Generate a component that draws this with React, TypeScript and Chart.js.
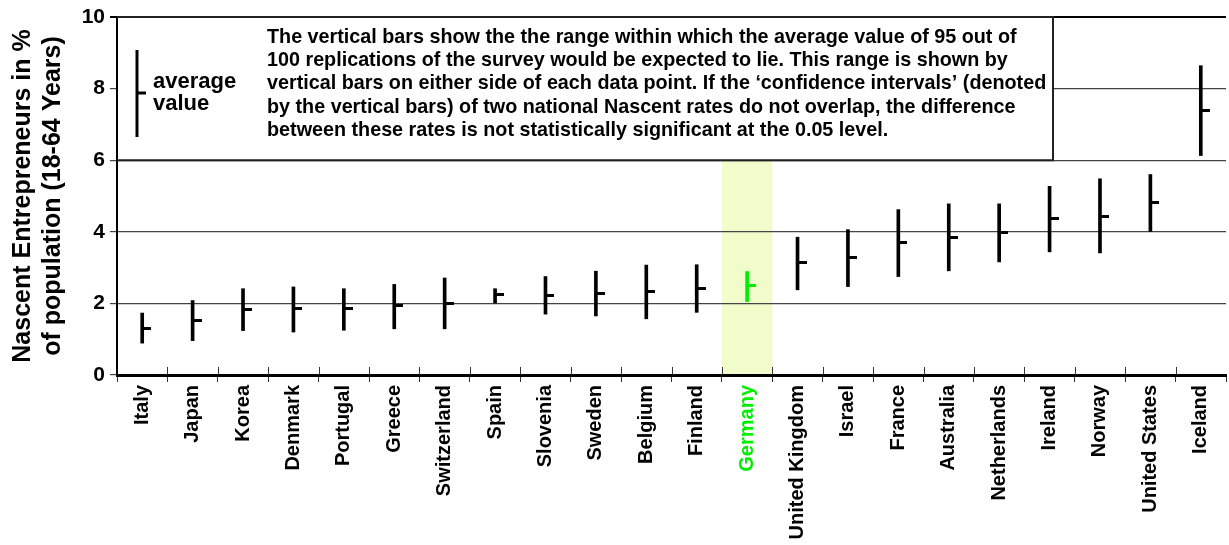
import React, { useEffect, useRef } from 'react';
import { Chart, registerables } from 'chart.js';

Chart.register(...registerables);

const countries = [
  'Italy', 'Japan', 'Korea', 'Denmark', 'Portugal', 'Greece', 'Switzerland', 'Spain',
  'Slovenia', 'Sweden', 'Belgium', 'Finland', 'Germany', 'United Kingdom', 'Israel',
  'France', 'Australia', 'Netherlands', 'Ireland', 'Norway', 'United States', 'Iceland',
];
const meanValues = [1.31, 1.52, 1.84, 1.85, 1.85, 1.93, 2.01, 2.24, 2.22, 2.29, 2.32, 2.41, 2.50, 3.13, 3.27, 3.69, 3.85, 3.99, 4.36, 4.43, 4.81, 7.40];
const lowValues = [0.89, 0.96, 1.24, 1.20, 1.25, 1.29, 1.29, 2.01, 1.70, 1.65, 1.57, 1.75, 2.05, 2.38, 2.47, 2.75, 2.91, 3.16, 3.44, 3.41, 4.01, 6.13];
const highValues = [1.73, 2.08, 2.41, 2.46, 2.41, 2.53, 2.71, 2.41, 2.75, 2.90, 3.07, 3.08, 2.89, 3.85, 4.06, 4.62, 4.78, 4.78, 5.27, 5.48, 5.60, 8.64];
const yMin = 0;
const yMax = 10;
const yStep = 2;
const highlightCountry = 'Germany';
const yTitleLines = ['Nascent Entrepreneurs in %', 'of population (18-64 Years)'];
const legendLines = ['average', 'value'];
const noteLines = [
  'The vertical bars show the the range within which the average value of 95 out of',
  '100 replications of the survey would be expected to lie. This range is shown by',
  'vertical bars on either side of each data point. If the \u2018confidence intervals\u2019 (denoted',
  'by the vertical bars) of two national Nascent rates do not overlap, the difference',
  'between these rates is not statistically significant at the 0.05 level.',
];

const GREEN = '#00ee00';
const BAND = '#f1fccb';
const FONT = '"Liberation Sans", Arial, sans-serif';

function makeTick(color: string): HTMLCanvasElement {
  const c = document.createElement('canvas');
  c.width = 18;
  c.height = 3;
  const g = c.getContext('2d')!;
  g.fillStyle = color;
  g.fillRect(9, 0, 9, 3);
  return c;
}

export default function App() {
  const ref = useRef<HTMLCanvasElement | null>(null);

  useEffect(() => {
    const canvas = ref.current;
    if (!canvas) return;
    const hi = countries.indexOf(highlightCountry);
    const blackTick = makeTick('#000');
    const greenTick = makeTick(GREEN);

    const bandPlugin = {
      id: 'band',
      beforeDraw(chart: any) {
        const { ctx, chartArea, scales } = chart;
        const x = scales.x;
        const w = (chartArea.right - chartArea.left) / countries.length;
        const cx = x.getPixelForValue(hi);
        ctx.save();
        ctx.fillStyle = BAND;
        ctx.fillRect(cx - w / 2, chartArea.top, w, chartArea.bottom - chartArea.top);
        ctx.restore();
      },
    };

    const notePlugin = {
      id: 'note',
      beforeDatasetsDraw(chart: any) {
        const { ctx, chartArea, scales } = chart;
        const y = scales.y;
        const top = y.getPixelForValue(yMax);
        const bottom = y.getPixelForValue(6);
        const left = chartArea.left;
        const right = 1053;
        ctx.save();
        ctx.fillStyle = '#fff';
        ctx.fillRect(left + 1, top, right - left - 1, bottom - top);
        ctx.strokeStyle = '#222';
        ctx.lineWidth = 2;
        ctx.beginPath();
        ctx.moveTo(left, top);
        ctx.lineTo(right, top);
        ctx.lineTo(right, bottom);
        ctx.lineTo(left, bottom);
        ctx.stroke();

        // legend sample
        ctx.strokeStyle = '#000';
        ctx.lineWidth = 3;
        ctx.beginPath();
        ctx.moveTo(left + 20, top + 33);
        ctx.lineTo(left + 20, top + 120);
        ctx.stroke();
        ctx.beginPath();
        ctx.moveTo(left + 20, top + 76);
        ctx.lineTo(left + 29, top + 76);
        ctx.stroke();

        ctx.fillStyle = '#000';
        ctx.font = `bold 22px ${FONT}`;
        ctx.textAlign = 'left';
        ctx.textBaseline = 'alphabetic';
        legendLines.forEach((t, i) => ctx.fillText(t, left + 36, top + 71 + i * 22));

        // note text, sized so that the first line spans the box width like the original
        ctx.font = `bold 19px ${FONT}`;
        const wFirst = ctx.measureText(noteLines[0]).width;
        const size = Math.min(21, 19 * (750 / wFirst));
        ctx.font = `bold ${size.toFixed(2)}px ${FONT}`;
        noteLines.forEach((t, i) => {
          ctx.fillText(t, 267, top + 26 + i * 23.2);
        });

        // inward x tick stubs
        const w = (chartArea.right - chartArea.left) / countries.length;
        ctx.strokeStyle = '#333';
        ctx.lineWidth = 1;
        for (let i = 1; i < countries.length; i++) {
          const px = Math.round(chartArea.left + i * w) + 0.5;
          ctx.beginPath();
          ctx.moveTo(px, chartArea.bottom - 8);
          ctx.lineTo(px, chartArea.bottom);
          ctx.stroke();
        }
        ctx.restore();
      },
    };

    const chart = new Chart(canvas, {
      type: 'bar',
      data: {
        labels: countries,
        datasets: [
          {
            type: 'bar',
            data: lowValues.map((lo, i) => [lo, highValues[i]]) as any,
            backgroundColor: countries.map((_, i) => (i === hi ? GREEN : '#000')),
            barThickness: 3,
            borderWidth: 0,
            borderSkipped: false,
            grouped: false,
          },
          {
            type: 'line',
            data: meanValues,
            showLine: false,
            pointStyle: countries.map((_, i) => (i === hi ? greenTick : blackTick)) as any,
            pointRadius: 5,
            pointHoverRadius: 5,
          },
        ],
      },
      options: {
        animation: false,
        responsive: false,
        devicePixelRatio: 1,
        events: [],
        layout: { padding: { top: 17, left: 0, right: 0, bottom: 0 } },
        plugins: { legend: { display: false }, tooltip: { enabled: false } },
        scales: {
          x: {
            type: 'category',
            offset: true,
            grid: { display: true, drawOnChartArea: false, offset: true, tickLength: 7, color: '#333', lineWidth: 1 },
            border: { color: '#000', width: 3 },
            ticks: {
              autoSkip: false,
              maxRotation: 90,
              minRotation: 90,
              padding: 3,
              font: { family: FONT, weight: 'bold', size: 20 },
              color: (c: any) => (c.index === hi ? GREEN : '#000'),
            },
            afterFit(scale: any) {
              scale.height = 170;
              scale.paddingLeft = 0;
              scale.paddingRight = 0;
            },
          },
          y: {
            min: yMin,
            max: yMax,
            ticks: {
              stepSize: yStep,
              padding: 5,
              color: '#000',
              font: { family: FONT, weight: 'bold', size: 21 },
            },
            grid: {
              color: (c: any) => (c.tick && c.tick.value === yMax ? '#000' : '#444'),
              lineWidth: (c: any) => (c.tick && c.tick.value === yMax ? 2 : 1.2),
              tickLength: 7,
            },
            border: { color: '#000', width: 2 },
            title: {
              display: true,
              text: yTitleLines,
              color: '#000',
              font: { family: FONT, weight: 'bold', size: 25, lineHeight: 1.2 },
              padding: { top: 8, bottom: 0 },
            },
            afterFit(scale: any) {
              scale.width = 117;
              scale.paddingTop = 0;
              scale.paddingBottom = 0;
            },
          },
        },
      },
      plugins: [bandPlugin, notePlugin],
    } as any);

    return () => chart.destroy();
  }, []);

  return (
    <div style={{ position: 'fixed', left: 0, top: 0, width: 1229, height: 545, overflow: 'hidden', background: '#fff' }}>
      <canvas ref={ref} width={1232} height={545} style={{ width: 1232, height: 545, display: 'block' }} />
    </div>
  );
}
